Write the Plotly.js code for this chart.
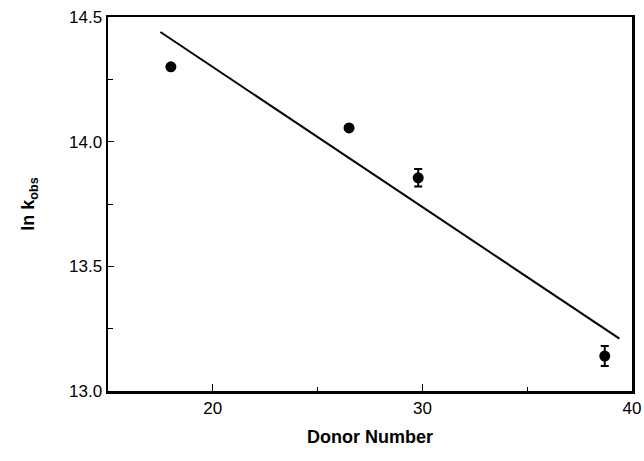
<!DOCTYPE html>
<html>
<head>
<meta charset="utf-8">
<script src="https://cdn.plot.ly/plotly-3.0.1.min.js"></script>
<style>html,body{margin:0;padding:0;background:#fff;}#chart{width:644px;height:461px;}</style>
</head>
<body>
<div id="chart"></div>
<script>
// Measured data
const donorNumber = [18.0, 26.5, 29.8, 38.7];
const lnKobs = [14.30, 14.055, 13.855, 13.14];
const lnKobsErr = [0, 0, 0.035, 0.04];
// Fitted straight line (as drawn in the figure)
const fitX = [17.5, 39.4];
const fitY = [14.44, 13.21];
const xTicks = [20, 30, 40];
const xMinorTicks = [25, 35];
const yTicks = [13.0, 13.5, 14.0, 14.5];
const yTickText = ['13.0', '13.5', '14.0', '14.5'];
const yMinorTicks = [13.25, 13.75, 14.25];

const font = 'Liberation Sans, Arial, Helvetica, sans-serif';

const traces = [
  {
    x: fitX, y: fitY, type: 'scatter', mode: 'lines',
    line: {color: '#000', width: 2}, hoverinfo: 'skip', showlegend: false
  },
  {
    x: donorNumber, y: lnKobs, type: 'scatter', mode: 'markers',
    marker: {color: '#000', size: 11, symbol: 'circle'},
    error_y: {type: 'data', array: lnKobsErr, visible: true, color: '#000', thickness: 2, width: 4},
    showlegend: false
  }
];

const layout = {
  width: 644, height: 461,
  margin: {l: 108, r: 12, t: 17, b: 70},
  paper_bgcolor: '#fff', plot_bgcolor: '#fff',
  font: {family: font, color: '#000', size: 17},
  showlegend: false,
  xaxis: {
    range: [15, 40], tickmode: 'array', tickvals: xTicks, ticktext: xTicks.map(String),
    ticks: 'inside', ticklen: 7, tickwidth: 1, tickcolor: '#000',
    showline: true, linewidth: 2.5, linecolor: '#000', mirror: true,
    showgrid: false, zeroline: false,
    tickfont: {family: font, size: 17, color: '#000'},
    minor: {tickmode: 'array', tickvals: xMinorTicks, ticks: 'inside', ticklen: 4, tickwidth: 1, tickcolor: '#000', showgrid: false},
    title: {text: '<b>Donor Number</b>', font: {family: font, size: 18, color: '#000'}, standoff: 14}
  },
  yaxis: {
    range: [13.0, 14.5], tickmode: 'array', tickvals: yTicks, ticktext: yTickText,
    ticks: 'inside', ticklen: 6, tickwidth: 1, tickcolor: '#000',
    showline: true, linewidth: 2.5, linecolor: '#000', mirror: true,
    showgrid: false, zeroline: false,
    tickfont: {family: font, size: 17, color: '#000'},
    minor: {tickmode: 'array', tickvals: yMinorTicks, ticks: 'inside', ticklen: 5, tickwidth: 1, tickcolor: '#000', showgrid: false},
    title: {text: '<b>ln k<sub>obs</sub></b>', font: {family: font, size: 18, color: '#000'}, standoff: 30}
  }
};

Plotly.newPlot('chart', traces, layout, {displayModeBar: false, staticPlot: true});
</script>
</body>
</html>
